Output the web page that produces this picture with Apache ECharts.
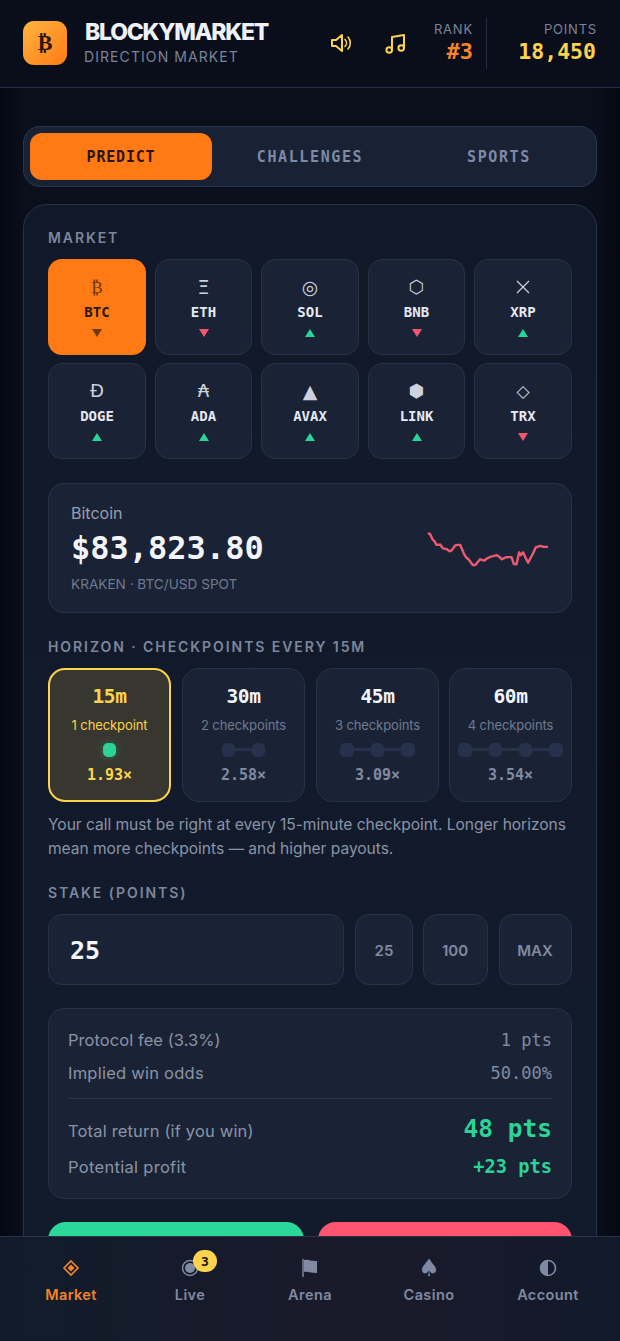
<!DOCTYPE html>
<html>
<head>
<meta charset="utf-8">
<title>BlockyMarket</title>
<script src="https://cdn.jsdelivr.net/npm/echarts@6/dist/echarts.min.js"></script>
<style>
  html, body { margin: 0; padding: 0; background: #060913; }
  #app { position: relative; width: 620px; height: 1341px; overflow: hidden; font-family: Inter, "Noto Sans", sans-serif;
    background: linear-gradient(90deg, #050811 0, #0a0f1c 4%, #0a0f1c 96%, #050811 100%); }
  .box { position: absolute; box-sizing: border-box; }
  .box svg { display: block; }
  .t { position: absolute; white-space: nowrap; line-height: 1; }
  .tile { background: #1a2335; border: 1.5px solid #273248; }
  #spark { position: absolute; left: 427px; top: 528px; width: 122px; height: 42px; }
</style>
</head>
<body>
<div id="app"></div>
<script>
// sparkline
const sparkTime = [0,7,14,21,25,31,37,45,51,57,65,72,82,89,97,103,109,115,122,129,135,143,149,157,163,170,177,182,189,197,207,215,223,229,235,245,252,259,267,275,280,287,295,302,309,317,325,331,339,349,362]
const sparkPrice = [83894,83887,83861,83849,83834,83834,83836,83816,83812,83812,83801,83807,83831,83834,83834,83811,83787,83771,83761,83746,83732,83732,83737,83761,83764,83754,83764,83774,83774,83777,83782,83774,83761,83761,83771,83772,83772,83737,83736,83796,83782,83796,83766,83744,83766,83791,83821,83814,83829,83824,83824]

const marketSymbols = ["BTC", "ETH", "SOL", "BNB", "XRP", "DOGE", "ADA", "AVAX", "LINK", "TRX"]
const marketGlyphs = ["₿", "Ξ", "◎", "⬡", "", "Ð", "₳", "▲", "⬢", "◇"] // XRP's cross is drawn below
const glyphSizes = [17, 19, 19, 18, 0, 18, 18, 19, 18, 17]
const marketUp = [false, false, true, false, true, true, true, true, true, false]

const horizonLabels = ["15m", "30m", "45m", "60m"]
const horizonChecks = ["1 checkpoint", "2 checkpoints", "3 checkpoints", "4 checkpoints"]
const horizonMult = ["1.93×", "2.58×", "3.09×", "3.54×"]

const navLabels = ["Market", "Live", "Arena", "Casino", "Account"]

const MONO = '"DejaVu Sans Mono", monospace'
const app = document.getElementById("app")

function box(x, y, w, h, r, css, cls) {
  const d = document.createElement("div")
  d.className = "box " + (cls || "")
  d.style.cssText = `left:${x}px;top:${y}px;width:${w}px;height:${h}px;border-radius:${r}px;` + (css || "")
  app.appendChild(d)
  return d
}

// x is left, centre or right edge depending on anchor, y is the text's middle
function txt(s, x, y, size, color, o) {
  o = o || {}
  const d = document.createElement("div")
  d.className = "t"
  d.textContent = s
  const tx = o.a === "c" ? "-50%" : o.a === "r" ? "-100%" : "0"
  d.style.cssText = `left:${x}px;top:${y}px;font-size:${size}px;color:${color};transform:translate(${tx},-50%);` +
    `font-weight:${o.w || 400};font-family:${o.f || "inherit"};letter-spacing:${o.ls || 0}px;` + (o.css || "")
  app.appendChild(d)
  return d
}

function svg(x, y, w, h, inner) {
  const d = document.createElement("div")
  d.className = "box"
  d.style.cssText = `left:${x}px;top:${y}px;width:${w}px;height:${h}px;`
  d.innerHTML = `<svg width="${w}" height="${h}" viewBox="0 0 ${w} ${h}" xmlns="http://www.w3.org/2000/svg">${inner}</svg>`
  app.appendChild(d)
}

// header
box(0, 0, 620, 87, 0, "background:#0a0e1b;")
box(0, 87, 620, 1, 0, "background:#232c45;")
box(23, 21, 44, 44, 11, "background:linear-gradient(135deg,#ffb53f,#ff7a14);")
txt("₿", 45, 43, 22, "#2a1503", { a: "c", w: 700, f: '"DejaVu Sans"' })
txt("BLOCKYMARKET", 85, 32, 23, "#eef1f8", { w: 800, ls: -1.25 })
txt("DIRECTION MARKET", 84, 57, 14, "#7b8499", { ls: 1.08 })
svg(330, 31, 24, 24,
  '<path d="M2 9v6h4l6 5V4L6 9z" fill="none" stroke="#fcd34d" stroke-width="2" stroke-linejoin="round"/>' +
  '<path d="M15 8.5a5 5 0 0 1 0 7M18 6a9 9 0 0 1 0 12" fill="none" stroke="#fcd34d" stroke-width="1.6" stroke-linecap="round"/>')
svg(384, 32, 23, 23,
  '<path d="M8 18V5l12-2v13" fill="none" stroke="#fcd34d" stroke-width="2" stroke-linejoin="round"/>' +
  '<circle cx="5.2" cy="18" r="2.8" fill="none" stroke="#fcd34d" stroke-width="2"/>' +
  '<circle cx="17.2" cy="16" r="2.8" fill="none" stroke="#fcd34d" stroke-width="2"/>')
txt("RANK", 473, 29, 13, "#7b8499", { a: "r", ls: 0.8 })
txt("#3", 473, 52, 22, "#f5842b", { a: "r", w: 700, f: MONO })
box(486, 18, 1, 51, 0, "background:#232c40;")
txt("POINTS", 597, 29, 13, "#7b8499", { a: "r", ls: 0.8 })
txt("18,450", 596, 52, 21.5, "#fcd34d", { a: "r", w: 700, f: MONO })

// tabs
box(23, 126, 574, 61, 17, "background:#182234;border:1.5px solid #2a3650;")
box(30, 133, 182, 47, 12, "background:#ff7a14;")
txt("PREDICT", 121, 157, 15, "#2a1503", { a: "c", w: 700, f: MONO, ls: 0.8 })
txt("CHALLENGES", 310, 157, 15, "#7f8aa6", { a: "c", w: 700, f: MONO, ls: 1.6 })
txt("SPORTS", 499, 157, 15, "#7f8aa6", { a: "c", w: 700, f: MONO, ls: 1.6 })

// main card
box(23, 204, 574, 1160, 24, "background:linear-gradient(180deg,#111929,#121b2c);border:1.5px solid #263248;")
txt("MARKET", 48, 238, 14, "#7d879c", { w: 600, ls: 1.9 })

const tileX = [48, 155, 261, 368, 474]
const tileW = [98, 97, 98, 97, 98]
marketSymbols.forEach((sym, i) => {
  const col = i % 5
  const rowY = i < 5 ? 259 : 363
  const cx = tileX[col] + tileW[col] / 2
  const active = i === 0
  if (active) box(tileX[col], rowY, tileW[col], 96, 14, "background:#ff7a14;")
  else box(tileX[col], rowY, tileW[col], 96, 14, "", "tile")
  if (marketGlyphs[i]) txt(marketGlyphs[i], cx, rowY + 28, glyphSizes[i], active ? "#6b3a08" : "#cdd2de", { a: "c", f: '"DejaVu Sans"' })
  txt(sym, cx, rowY + 53, 14, active ? "#2a1503" : "#e6e9f1", { a: "c", w: 700, f: MONO })
  const color = active ? "#6b3a08" : marketUp[i] ? "#2bd496" : "#f5566f"
  const pts = marketUp[i] ? "0,8 5,0 10,8" : "0,0 10,0 5,8"
  svg(cx - 5, rowY + 70, 10, 8, `<polygon points="${pts}" fill="${color}"/>`)
})
svg(516, 280, 14, 14, '<path d="M1 1l12 12M13 1L1 13" stroke="#cdd2de" stroke-width="1.2"/>')

// price card
box(48, 483, 524, 130, 16, "", "tile")
txt("Bitcoin", 71, 513, 16, "#969fb2")
txt("$83,823.80", 71, 548, 32, "#f3f5fa", { w: 700, f: MONO })
txt("KRAKEN · BTC/USD SPOT", 71, 585, 13.6, "#6f7a90")
const sparkDiv = document.createElement("div")
sparkDiv.id = "spark"
app.appendChild(sparkDiv)

// horizon
txt("HORIZON · CHECKPOINTS EVERY 15M", 48, 647, 14, "#7d879c", { w: 600, ls: 1.93 })
const horX = [48, 182, 316, 449]
const horW = [123, 123, 123, 123]
horizonLabels.forEach((lab, i) => {
  const on = i === 0
  const cx = horX[i] + horW[i] / 2
  if (on) box(horX[i], 668, horW[i], 134, 17, "background:#38372f;border:2px solid #fcd34d;")
  else box(horX[i], 668, horW[i], 134, 17, "", "tile")
  txt(lab, cx, 697, 19.5, on ? "#fcd34d" : "#f3f5fa", { a: "c", w: 700, f: MONO, ls: -0.4 })
  txt(horizonChecks[i], cx, 725, 13, on ? "#fcd34d" : "#6f7a90", { a: "c", ls: -0.1 })
  const n = i + 1
  const gap = 30.4
  const left = cx - (n - 1) * gap / 2
  if (n > 1) box(left, 748, (n - 1) * gap, 3, 0, "background:#26314b;")
  for (let k = 0; k < n; k++) {
    const css = on ? "background:#2bd496;box-shadow:0 0 8px #2bd49655;" : "background:#26314b;"
    box(left + k * gap - 6.75, 742.5, 13.5, 14, 5, css)
  }
  txt(horizonMult[i], cx, 775, 15, on ? "#fcd34d" : "#808aa2", { a: "c", w: 700, f: MONO })
})

txt("Your call must be right at every 15-minute checkpoint. Longer horizons", 48, 824.5, 15.6, "#8a93a6", { ls: -0.05 })
txt("mean more checkpoints — and higher payouts.", 48, 848.5, 15.6, "#8a93a6", { ls: -0.05 })

// stake
txt("STAKE (POINTS)", 48, 893, 14, "#7d879c", { w: 600, ls: 1.93 })
box(48, 914, 296, 71, 14, "", "tile")
txt("25", 70, 950, 25, "#f3f5fa", { w: 700, f: MONO })
box(355, 914, 58, 71, 14, "", "tile")
txt("25", 384, 950, 15, "#808aa2", { a: "c", w: 600 })
box(423, 914, 65, 71, 14, "", "tile")
txt("100", 455, 950, 15, "#808aa2", { a: "c", w: 600 })
box(499, 914, 73, 71, 14, "", "tile")
txt("MAX", 535, 950, 15, "#808aa2", { a: "c", w: 600 })

// summary
box(48, 1008, 524, 191, 16, "", "tile")
txt("Protocol fee (3.3%)", 68, 1040, 16.5, "#8a93a6", { ls: 0.06 })
txt("1 pts", 552, 1040, 17, "#808aa2", { a: "r", f: MONO })
txt("Implied win odds", 68, 1073, 16.5, "#8a93a6", { ls: 0.24 })
txt("50.00%", 552, 1073, 17, "#808aa2", { a: "r", f: MONO })
box(68, 1098, 484, 1, 0, "background:#2a3550;")
txt("Total return (if you win)", 68, 1131, 16.5, "#8a93a6", { ls: 0.17 })
txt("48 pts", 552, 1129, 24.5, "#2bd496", { a: "r", w: 700, f: MONO })
txt("Potential profit", 68, 1167, 16.5, "#8a93a6", { ls: 0.3 })
txt("+23 pts", 552, 1167, 18.7, "#2bd496", { a: "r", w: 700, f: MONO })

// action buttons, cut off by the nav
box(48, 1222, 256, 40, 18, "background:#2bd89a;")
box(318, 1222, 254, 40, 18, "background:#ff5470;")

// bottom nav
box(0, 1236, 620, 105, 0, "background:linear-gradient(90deg,#111c2a,#1a1a2b 60%,#121a2a);border-top:1px solid #283349;")
const navX = [71, 190, 310, 429, 548]
navLabels.forEach((lab, i) => {
  txt(lab, navX[i], 1295, 14.5, i === 0 ? "#f5842b" : "#808aa2", { a: "c", w: 600, ls: 0.4 })
})
svg(61, 1258, 20, 20, '<path d="M10 3l7 7-7 7-7-7z" fill="none" stroke="#f5842b" stroke-width="1.6"/><path d="M10 6.5l3.5 3.5-3.5 3.5L6.5 10z" fill="#f5842b"/>')
svg(180, 1258, 20, 20, '<circle cx="10" cy="10" r="7.5" fill="none" stroke="#808aa2" stroke-width="1.4"/><circle cx="10" cy="10" r="5" fill="#808aa2"/>')
box(193, 1250, 24, 22, 11, "background:#fcd34d;")
txt("3", 205, 1261, 13, "#1b1505", { a: "c", w: 700, f: MONO })
svg(300, 1258, 20, 20, '<path d="M3 1v18" stroke="#808aa2" stroke-width="1.4"/><path d="M4 2c4 -1 6 1 13 1v12c-6 0 -9 -2 -13 -1z" fill="#808aa2"/>')
txt("♠", 429, 1268, 24, "#808aa2", { a: "c", f: '"DejaVu Sans"' })
svg(538, 1258, 20, 20, '<circle cx="10" cy="10" r="7.5" fill="none" stroke="#808aa2" stroke-width="1.6"/><path d="M10 2.5a7.5 7.5 0 0 0 0 15z" fill="#808aa2"/>')

// the only real chart on the page
const chart = echarts.init(sparkDiv, null, { renderer: "canvas" })
chart.setOption({
  animation: false,
  grid: { left: 1, right: 1, top: 5, height: 32 },
  xAxis: { type: "value", min: 0, max: 362, show: false },
  yAxis: { type: "value", min: 83732, max: 83894, show: false },
  series: [
    {
      type: "line",
      data: sparkTime.map((t, i) => [t, sparkPrice[i]]),
      showSymbol: false,
      clip: false,
      lineStyle: { color: "#ef5a72", width: 2.4, join: "round" }
    }
  ]
})
</script>
</body>
</html>
